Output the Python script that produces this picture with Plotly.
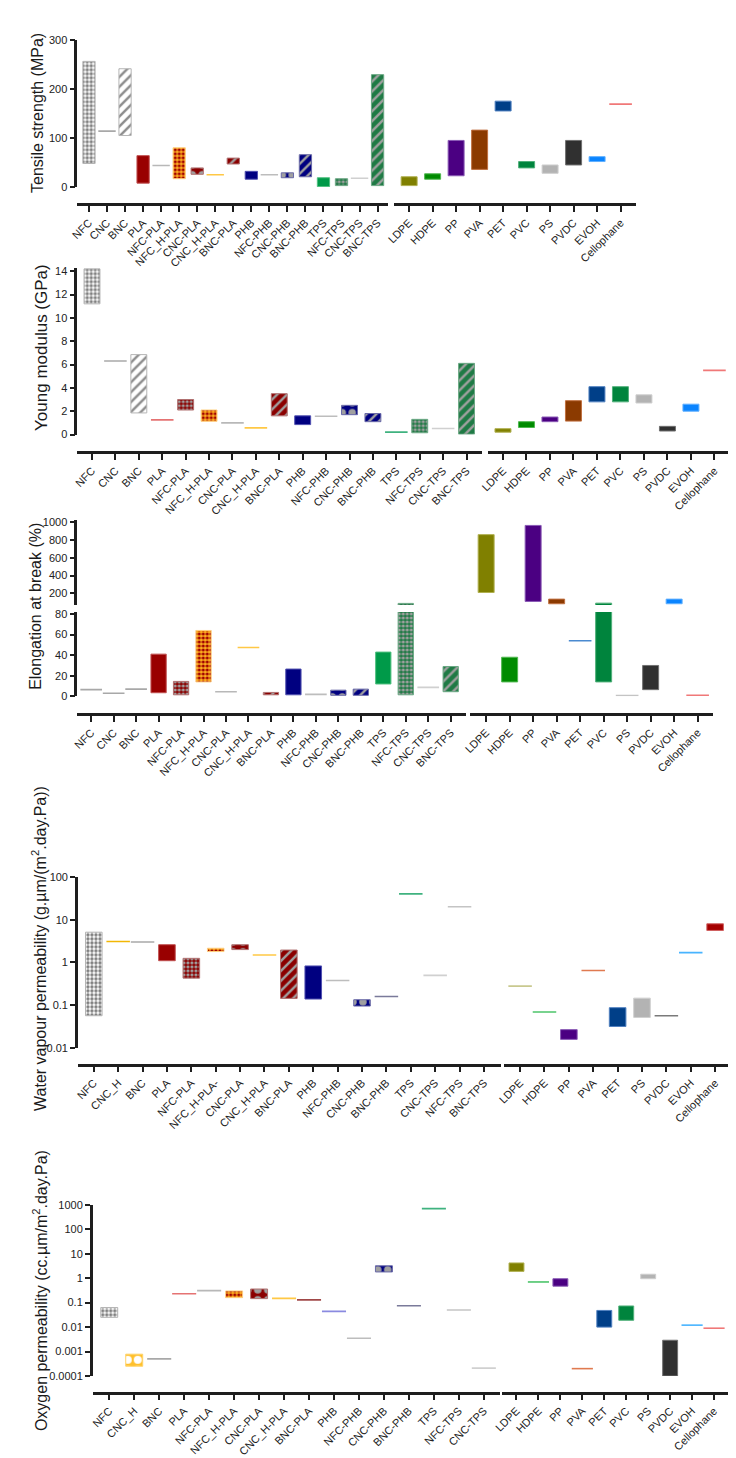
import plotly.graph_objects as go

W, H = 736, 1458

# ---------------- categories ----------------
bio_cats = ["NFC", "CNC", "BNC", "PLA", "NFC-PLA", "NFC_H-PLA", "CNC-PLA", "CNC_H-PLA", "BNC-PLA",
            "PHB", "NFC-PHB", "CNC-PHB", "BNC-PHB", "TPS", "NFC-TPS", "CNC-TPS", "BNC-TPS"]
petro_cats = ["LDPE", "HDPE", "PP", "PVA", "PET", "PVC", "PS", "PVDC", "EVOH", "Cellophane"]
wvp_bio_cats = ["NFC", "CNC_H", "BNC", "PLA", "NFC-PLA", "NFC_H-PLA-", "CNC-PLA", "CNC_H-PLA", "BNC-PLA",
                "PHB", "NFC-PHB", "CNC-PHB", "BNC-PHB", "TPS", "CNC-TPS", "NFC-TPS", "BNC-TPS"]
wvp_petro_cats = ["LDPE", "HDPE", "PP", "PVA", "PET", "PS", "PVDC", "EVOH", "Cellophane"]
o2_bio_cats = ["NFC", "CNC_H", "BNC", "PLA", "NFC-PLA", "NFC_H-PLA", "CNC-PLA", "CNC_H-PLA", "BNC-PLA",
               "PHB", "NFC-PHB", "CNC-PHB", "BNC-PHB", "TPS", "NFC-TPS", "CNC-TPS"]
o2_petro_cats = ["LDPE", "HDPE", "PP", "PVA", "PET", "PVC", "PS", "PVDC", "EVOH", "Cellophane"]

# ---------------- values (low / high of each range) ----------------
tensile_low = [48, 114, 105, 8, 44, 17, 26, 25, 47, 16, 25, 19, 21, 1, 3, 18, 3]
tensile_high = [256, 114, 241, 64, 44, 80, 39, 25, 59, 32, 25, 29, 66, 19, 17, 18, 229]
tensile_low_p = [3, 16, 23, 36, 155, 39, 28, 45, 52, 169]
tensile_high_p = [21, 27, 95, 116, 175, 52, 45, 95, 62, 169]

young_low = [11.2, 6.3, 1.85, 1.25, 2.1, 1.13, 1.0, 0.57, 1.6, 0.85, 1.56, 1.7, 1.1, 0.2, 0.15, 0.51, 0.03]
young_high = [14.2, 6.3, 6.85, 1.25, 3.0, 2.1, 1.0, 0.57, 3.5, 1.6, 1.56, 2.5, 1.8, 0.2, 1.3, 0.51, 6.1]
young_low_p = [0.2, 0.6, 1.1, 1.15, 2.8, 2.8, 2.7, 0.3, 2.0, 5.5]
young_high_p = [0.5, 1.1, 1.5, 2.9, 4.1, 4.1, 3.4, 0.7, 2.6, 5.5]

elong_low = [6.5, 3, 7, 3.5, 1.5, 14, 4.5, 47.5, 1.5, 1.5, 1.9, 1, 1, 12, 1.5, 8.7, 4.5]
elong_high = [6.5, 3, 7, 41, 14.5, 64, 4.5, 47.5, 3.8, 26.5, 1.9, 6, 7, 43, 89, 8.7, 29]
elong_low_p = [211, 14, 111, 85, 54, 14, 0.8, 6.5, 85, 1]
elong_high_p = [859, 38, 962, 137, 54, 92, 0.8, 30, 137, 1]

wvp_low = [0.057, 3.1, 3.0, 1.1, 0.43, 1.8, 2.0, 1.5, 0.145, 0.14, 0.38, 0.096, 0.16, 40, 0.5, 20, None]
wvp_high = [5.1, 3.1, 3.0, 2.6, 1.25, 2.15, 2.6, 1.5, 1.95, 0.83, 0.38, 0.135, 0.16, 40, 0.5, 20, None]
wvp_low_p = [0.28, 0.07, 0.016, 0.65, 0.032, 0.052, 0.057, 1.7, 5.6]
wvp_high_p = [0.28, 0.07, 0.027, 0.65, 0.088, 0.147, 0.057, 1.7, 8.0]

o2_low = [0.025, 0.00025, 0.0005, 0.23, 0.31, 0.16, 0.146, 0.15, 0.13, 0.044, 0.0035, 1.8, 0.075, 700, 0.05, 0.00021]
o2_high = [0.063, 0.00078, 0.0005, 0.23, 0.31, 0.3, 0.36, 0.15, 0.13, 0.044, 0.0035, 3.2, 0.075, 700, 0.05, 0.00021]
o2_low_p = [1.9, 0.7, 0.47, 0.0002, 0.01, 0.019, 0.95, 0.0001, 0.012, 0.009]
o2_high_p = [4.2, 0.7, 0.95, 0.0002, 0.048, 0.073, 1.45, 0.0029, 0.012, 0.009]

# ---------------- axis ticks ----------------
tensile_ticks = [0, 100, 200, 300]
young_ticks = [0, 2, 4, 6, 8, 10, 12, 14]
elong_ticks_low = [0, 20, 40, 60, 80]
elong_ticks_high = [200, 400, 600, 800, 1000]
wvp_ticks = [0.01, 0.1, 1, 10, 100]
wvp_tick_text = ["0.01", "0.1", "1", "10", "100"]
o2_ticks = [0.0001, 0.001, 0.01, 0.1, 1, 10, 100, 1000]
o2_tick_text = ["0.0001", "0.001", "0.01", "0.1", "1", "10", "100", "1000"]

# ---------------- styles ----------------
GREY = "#a0a0a0"
STYLE = {
    "NFC": dict(fill="#ffffff", shape=".", fg="#808080", ps=4, sol=0.55, edge="#b5b5b5", line="#a8a8a8"),
    "CNC": dict(fill="#ffffff", shape="-", fg="#9a9a9a", ps=4, sol=0.4, edge="#b5b5b5", line="#a8a8a8"),
    "CNC_H": dict(fill="#FFC02C", shape=".", fg="#ffffff", ps=10, sol=0.5, edge="#FFD36A", line="#F2B705"),
    "BNC": dict(fill="#ffffff", shape="/", fg="#8c8c8c", ps=7, sol=0.35, edge="#b5b5b5", line="#a8a8a8"),
    "PLA": dict(fill="#990000", shape="", fg=GREY, ps=4, sol=0.3, edge="#c05050", line="#E57373"),
    "NFC-PLA": dict(fill="#8B0000", shape=".", fg=GREY, ps=4, sol=0.5, edge="#b07070", line="#b8b8b8"),
    "NFC_H-PLA": dict(fill="#FFB020", shape=".", fg="#A00000", ps=4, sol=0.5, edge="#FFD080", line="#FFB020"),
    "CNC-PLA": dict(fill="#8B0000", shape=".", fg=GREY, ps=10, sol=0.45, edge="#b07070", line="#b8b8b8"),
    "CNC_H-PLA": dict(fill="#FFC000", shape="", fg=GREY, ps=4, sol=0.3, edge="#FFD050", line="#FFC845"),
    "BNC-PLA": dict(fill="#8B0000", shape="/", fg=GREY, ps=7, sol=0.35, edge="#b07070", line="#a04848"),
    "PHB": dict(fill="#000080", shape="", fg=GREY, ps=4, sol=0.3, edge="#5050b0", line="#8a8ae0"),
    "NFC-PHB": dict(fill="#000080", shape=".", fg=GREY, ps=4, sol=0.5, edge="#6a6aa8", line="#bdbdbd"),
    "CNC-PHB": dict(fill="#000080", shape=".", fg=GREY, ps=10, sol=0.45, edge="#6a6aa8", line="#9a9ab0"),
    "BNC-PHB": dict(fill="#000080", shape="/", fg=GREY, ps=7, sol=0.35, edge="#6a6aa8", line="#7a7a9a"),
    "TPS": dict(fill="#009A49", shape="", fg=GREY, ps=4, sol=0.3, edge="#50c080", line="#3FB27F"),
    "NFC-TPS": dict(fill="#1F7A45", shape=".", fg=GREY, ps=4, sol=0.5, edge="#6aa883", line="#c4c4c4"),
    "CNC-TPS": dict(fill="#1F7A45", shape="-", fg=GREY, ps=4, sol=0.4, edge="#6aa883", line="#d0d0d0"),
    "BNC-TPS": dict(fill="#1F7A45", shape="/", fg=GREY, ps=7, sol=0.35, edge="#6aa883", line="#a0a0a0"),
    "LDPE": dict(fill="#808000", shape="", fg=GREY, ps=4, sol=0.3, edge="#b0b050", line="#C9C98F"),
    "HDPE": dict(fill="#008B00", shape="", fg=GREY, ps=4, sol=0.3, edge="#50b850", line="#4CC46A"),
    "PP": dict(fill="#4B0082", shape="", fg=GREY, ps=4, sol=0.3, edge="#8a5ab5", line="#8a5ab5"),
    "PVA": dict(fill="#8B3A00", shape="", fg=GREY, ps=4, sol=0.3, edge="#c07040", line="#E07A50"),
    "PET": dict(fill="#003F88", shape="", fg=GREY, ps=4, sol=0.3, edge="#5080c0", line="#4A8AD0"),
    "PVC": dict(fill="#00843D", shape="", fg=GREY, ps=4, sol=0.3, edge="#50b07a", line="#4CB07A"),
    "PS": dict(fill="#B3B3B3", shape="", fg=GREY, ps=4, sol=0.3, edge="#cfcfcf", line="#c4c4c4"),
    "PVDC": dict(fill="#303030", shape="", fg=GREY, ps=4, sol=0.3, edge="#707070", line="#7a7a7a"),
    "EVOH": dict(fill="#0A84FF", shape="", fg=GREY, ps=4, sol=0.3, edge="#60b0ff", line="#48B4FF"),
    "Cellophane": dict(fill="#A50000", shape="", fg=GREY, ps=4, sol=0.3, edge="#d06060", line="#F07878"),
}
FONT = "Liberation Sans, Arial, Helvetica, sans-serif"
AXC = "#1e1e1e"
BAR_W = 0.68

fig = go.Figure()
axes = {}


def sty(c):
    return STYLE[c.rstrip("-")]


def add_group(cats, lows, highs, xa, ya, spacing_px):
    sx, sy, sc = [], [], []
    for c, lo, hi in zip(cats, lows, highs):
        if lo is None:
            continue
        s = sty(c)
        if hi > lo:
            pat = dict(shape=s["shape"], fgcolor=s["fg"], size=s["ps"], solidity=s["sol"],
                       fillmode="overlay", fgopacity=1) if s["shape"] else dict(shape="")
            fig.add_trace(go.Bar(
                x=[c], y=[hi - lo], base=[lo], width=BAR_W, xaxis=xa, yaxis=ya, hoverinfo="skip",
                marker=dict(color=s["fill"], line=dict(color=s["edge"], width=1), pattern=pat)))
        else:
            sx.append(c); sy.append(lo); sc.append(s["line"])
    if sx:
        fig.add_trace(go.Scatter(
            x=sx, y=sy, mode="markers", xaxis=xa, yaxis=ya, hoverinfo="skip",
            marker=dict(symbol="line-ew-open", size=BAR_W * spacing_px, color=sc,
                        line=dict(color=sc, width=1.6))))


def xax(name, dom, rng, cats, pos):
    axes[name] = dict(
        domain=[dom[0] / W, dom[1] / W], range=rng, type="category",
        categoryorder="array", categoryarray=cats, tickmode="array", tickvals=cats, ticktext=cats,
        anchor="free", position=1 - pos / H, showline=True, linecolor=AXC, linewidth=2.5,
        ticks="outside", ticklen=6, tickwidth=2, tickcolor=AXC, tickangle=-45,
        tickfont=dict(size=11, color="#222", family=FONT), showgrid=False, zeroline=False)


def yax(name, anchor, dom, rng, log, tv, tt, visible=True):
    axes[name] = dict(
        domain=[1 - dom[1] / H, 1 - dom[0] / H], range=rng, type="log" if log else "linear",
        anchor=anchor, visible=visible, showline=True, linecolor=AXC, linewidth=2.5,
        ticks="outside", ticklen=5, tickwidth=2, tickcolor=AXC, tickmode="array",
        tickvals=tv, ticktext=tt, tickfont=dict(size=11, color="#222", family=FONT),
        showgrid=False, zeroline=False)


def panel(ids, xl_dom, xr_dom, xl_rng, xr_rng, cats_l, cats_r, xpos, ysegs, data_l, data_r):
    xl, xr = ids[0], ids[1]
    xax("xaxis" + xl[1:], xl_dom, xl_rng, cats_l, xpos)
    xax("xaxis" + xr[1:], xr_dom, xr_rng, cats_r, xpos)
    sp_l = (xl_dom[1] - xl_dom[0]) / (xl_rng[1] - xl_rng[0])
    sp_r = (xr_dom[1] - xr_dom[0]) / (xr_rng[1] - xr_rng[0])
    for (yl, yr, dom, rng, log, tv, tt) in ysegs:
        yax("yaxis" + yl[1:], xl, dom, rng, log, tv, tt)
        yax("yaxis" + yr[1:], xr, dom, rng, log, tv, tt, visible=False)
        add_group(cats_l, data_l[0], data_l[1], xl, yl, sp_l)
        add_group(cats_r, data_r[0], data_r[1], xr, yr, sp_r)


# Panel 1: tensile strength
panel(("x", "x2"), (61, 376), (382, 627), [-0.65, 16.6], [-0.63, 9.67], bio_cats, petro_cats, 192,
      [("y", "y2", (26, 174.5), [0, 300], False, tensile_ticks, [str(v) for v in tensile_ticks])],
      (tensile_low, tensile_high), (tensile_low_p, tensile_high_p))

# Panel 2: Young modulus
panel(("x3", "x4"), (61, 471), (477, 722), [-0.63, 16.67], [-0.63, 9.67], bio_cats, petro_cats, 442,
      [("y3", "y4", (255.8, 424), [0, 14.3], False, young_ticks, [str(v) for v in young_ticks])],
      (young_low, young_high), (young_low_p, young_high_p))

# Panel 3: elongation at break (broken axis)
panel(("x5", "x6"), (61, 455), (459, 705), [-0.62, 16.7], [-0.67, 9.67], bio_cats, petro_cats, 706,
      [("y5", "y6", (510, 596), [70, 1025], False, elong_ticks_high, [str(v) for v in elong_ticks_high]),
       ("y7", "y8", (602.9, 688), [0, 82], False, elong_ticks_low, [str(v) for v in elong_ticks_low])],
      (elong_low, elong_high), (elong_low_p, elong_high_p))

# Panel 4: water vapour permeability
panel(("x7", "x8"), (61.7, 490), (493.3, 723.3), [-0.65, 16.7], [-0.65, 8.67], wvp_bio_cats, wvp_petro_cats,
      1059.3, [("y9", "y10", (870, 1042.7), [-2, 2], True, wvp_ticks, wvp_tick_text)],
      (wvp_low, wvp_high), (wvp_low_p, wvp_high_p))

# Panel 5: oxygen permeability
panel(("x9", "x10"), (76.7, 489.3), (491, 721), [-0.66, 15.66], [-0.66, 9.69], o2_bio_cats, o2_petro_cats,
      1390, [("y11", "y12", (1200.7, 1373.3), [-4, 3], True, o2_ticks, o2_tick_text)],
      (o2_low, o2_high), (o2_low_p, o2_high_p))

titles = [
    ("Tensile strength (MPa)", 20, 100, 16),
    ("Young modulus (GPa)", 25, 336, 17),
    ("Elongation at break (%)", 18, 597, 16),
    ("Water vapour permeability (g.µm/(m<sup>2</sup>.day.Pa))", 23, 942, 16),
    ("Oxygen permeability (cc.µm/m<sup>2</sup>.day.Pa)", 24, 1287, 16),
]
annotations = [dict(text=t, x=x / W, y=1 - y / H, xref="paper", yref="paper", textangle=-90,
                    showarrow=False, xanchor="center", yanchor="middle",
                    font=dict(size=s, color="#1a1a1a", family=FONT)) for t, x, y, s in titles]

fig.update_layout(width=W, height=H, margin=dict(l=0, r=0, t=0, b=0), showlegend=False,
                  paper_bgcolor="white", plot_bgcolor="white", barmode="overlay",
                  font=dict(family=FONT, color="#222"), annotations=annotations, **axes)

fig.write_html("out.html")
